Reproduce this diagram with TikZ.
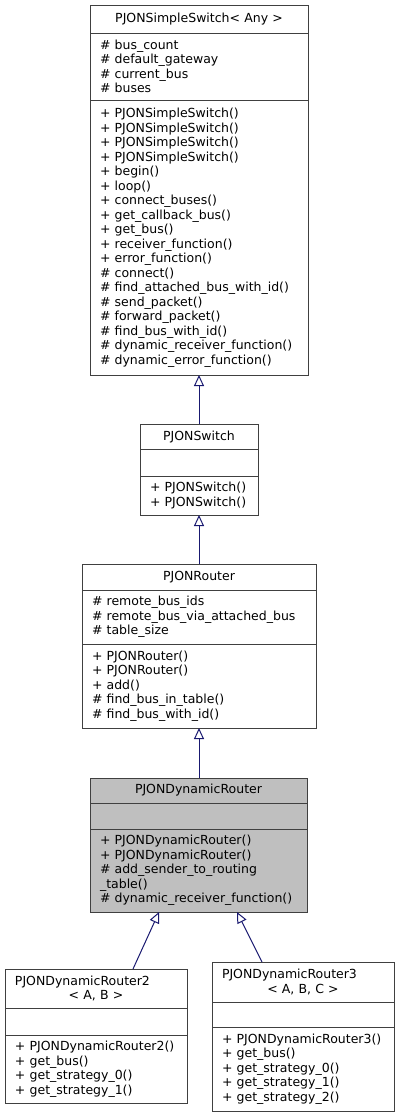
\documentclass[tikz,border=0pt]{standalone}
\usepackage{fontspec}
\setmainfont{DejaVu Sans}
\usetikzlibrary{arrows.meta,positioning}
\definecolor{edgeblue}{HTML}{191970}
\definecolor{boxgray}{HTML}{404040}
\tikzset{
  cls_part/.style = {draw=boxgray, line width=1pt, fill=white, outer sep=0pt,
    inner xsep=10pt, inner ysep=0pt, align=left,
    font=\fontsize{12.5}{14.5}\selectfont},
  cls_head/.style = {cls_part, align=center},
  cls_cur/.style = {fill=black!25},% classe courante, fond gris
}
\begin{document}
\begin{tikzpicture}[x=1pt,y=-1pt,
  inherit/.style={draw=edgeblue, line width=1pt,
    -{Triangle[open,length=11pt,width=10pt]}}]
\useasboundingbox (0,0) rectangle (400,1117);

% PJONSimpleSwitch
\node [cls_head, text width=198pt, minimum height=28pt, anchor=north] (ss_head) at (199,5)
  {PJONSimpleSwitch< Any >};
\node [cls_part, text width=198pt, minimum height=67pt, below=0pt of ss_head] (ss_attr)
  {\# bus\_count\\\# default\_gateway\\\# current\_bus\\\# buses};
\node [cls_part, text width=198pt, minimum height=275pt, below=0pt of ss_attr] (ss_meth)
  {+ PJONSimpleSwitch()\\+ PJONSimpleSwitch()\\+ PJONSimpleSwitch()\\+ PJONSimpleSwitch()\\
   + begin()\\+ loop()\\+ connect\_buses()\\+ get\_callback\_bus()\\+ get\_bus()\\
   + receiver\_function()\\+ error\_function()\\\# connect()\\\# find\_attached\_bus\_with\_id()\\
   \# send\_packet()\\\# forward\_packet()\\\# find\_bus\_with\_id()\\
   \# dynamic\_receiver\_function()\\\# dynamic\_error\_function()};

% PJONSwitch
\node [cls_head, text width=98pt, minimum height=25pt, anchor=north] (sw_head) at (199,424)
  {PJONSwitch};
\node [cls_part, text width=98pt, minimum height=27pt, below=0pt of sw_head] (sw_attr) {};
\node [cls_part, text width=98pt, minimum height=39pt, below=0pt of sw_attr] (sw_meth)
  {+ PJONSwitch()\\+ PJONSwitch()};

% PJONRouter
\node [cls_head, text width=214pt, minimum height=26pt, anchor=north] (rt_head) at (199,564)
  {PJONRouter};
\node [cls_part, text width=214pt, minimum height=54pt, below=0pt of rt_head] (rt_attr)
  {\# remote\_bus\_ids\\\# remote\_bus\_via\_attached\_bus\\\# table\_size};
\node [cls_part, text width=214pt, minimum height=84pt, below=0pt of rt_attr] (rt_meth)
  {+ PJONRouter()\\+ PJONRouter()\\+ add()\\\# find\_bus\_in\_table()\\\# find\_bus\_with\_id()};

% PJONDynamicRouter
\node [cls_head, cls_cur, text width=197pt, minimum height=25pt, anchor=north] (dr_head) at (198.5,778)
  {PJONDynamicRouter};
\node [cls_part, cls_cur, text width=197pt, minimum height=26pt, below=0pt of dr_head] (dr_attr) {};
\node [cls_part, cls_cur, text width=197pt, minimum height=83pt, below=0pt of dr_attr] (dr_meth)
  {+ PJONDynamicRouter()\\+ PJONDynamicRouter()\\\# add\_sender\_to\_routing\\\_table()\\
   \# dynamic\_receiver\_function()};

% PJONDynamicRouter2
\node [cls_part, text width=162pt, minimum height=39pt, anchor=north] (dr2_head) at (96,969)
  {PJONDynamicRouter2\par{\centering < A, B >\par}};
\node [cls_part, text width=162pt, minimum height=27pt, below=0pt of dr2_head] (dr2_attr) {};
\node [cls_part, text width=162pt, minimum height=68pt, below=0pt of dr2_attr] (dr2_meth)
  {+ PJONDynamicRouter2()\\+ get\_bus()\\+ get\_strategy\_0()\\+ get\_strategy\_1()};

% PJONDynamicRouter3
\node [cls_part, text width=162pt, minimum height=40pt, anchor=north] (dr3_head) at (303,962)
  {PJONDynamicRouter3\par{\centering < A, B, C >\par}};
\node [cls_part, text width=162pt, minimum height=25pt, below=0pt of dr3_head] (dr3_attr) {};
\node [cls_part, text width=162pt, minimum height=84pt, below=0pt of dr3_attr] (dr3_meth)
  {+ PJONDynamicRouter3()\\+ get\_bus()\\+ get\_strategy\_0()\\+ get\_strategy\_1()\\
   + get\_strategy\_2()};

% heritage
\draw [inherit] (sw_head.north) -- (ss_meth.south);
\draw [inherit] (rt_head.north) -- (sw_meth.south);
\draw [inherit] ([xshift=0.5pt]dr_head.north) -- (rt_meth.south);
\draw [inherit] ([xshift=37pt]dr2_head.north) -- ([xshift=-39.5pt]dr_meth.south);
\draw [inherit] ([xshift=-41pt]dr3_head.north) -- ([xshift=38.5pt]dr_meth.south);
\end{tikzpicture}
\end{document}
